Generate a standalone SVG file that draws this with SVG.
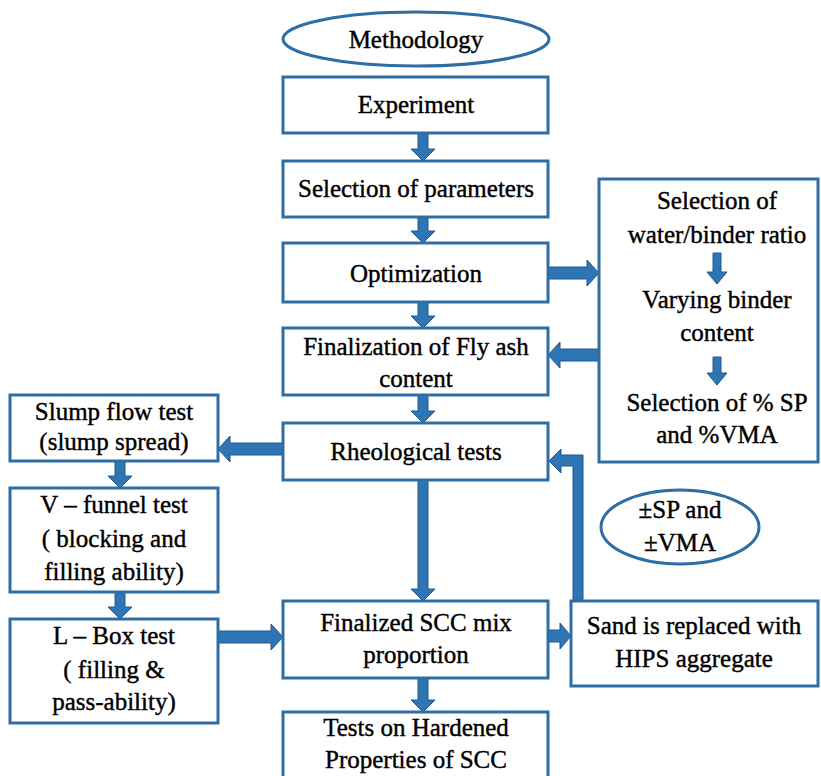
<svg xmlns="http://www.w3.org/2000/svg" width="821" height="776" viewBox="0 0 821 776">
<style>
.box{fill:#fff;stroke:#2f6ea5;stroke-width:3}
.arr{fill:#2e75b6;stroke:#23598a;stroke-width:1}
</style>
<rect width="821" height="776" fill="#fff"/>
<g id="connectors">
<polygon class="arr" points="418,133 428,133 428,149 435,149 423,161 411,149 418,149"/>
<polygon class="arr" points="418,217 428,217 428,231 435,231 423,243 411,231 418,231"/>
<polygon class="arr" points="418,302 428,302 428,316 435,316 423,328 411,316 418,316"/>
<polygon class="arr" points="418,395 428,395 428,411 435,411 423,423 411,411 418,411"/>
<polygon class="arr" points="418,480 428,480 428,589 435,589 423,601 411,589 418,589"/>
<polygon class="arr" points="418,678 428,678 428,700 435,700 423,712 411,700 418,700"/>
<polygon class="arr" points="115,461 125,461 125,476 132,476 120,488 108,476 115,476"/>
<polygon class="arr" points="115,592 125,592 125,607 132,607 120,619 108,607 115,607"/>
<polygon class="arr" points="548,267 587,267 587,260 599,273 587,286 587,279 548,279"/>
<polygon class="arr" points="599,349 560,349 560,342 548,355 560,368 560,361 599,361"/>
<polygon class="arr" points="283,443 230,443 230,436 218,449 230,462 230,455 283,455"/>
<polygon class="arr" points="218,631 271,631 271,624 283,637 271,650 271,643 218,643"/>
<polygon class="arr" points="548,630 560,630 560,623 571,636 560,649 560,642 548,642"/>
<polygon class="arr" points="573,601 573,466 561,466 561,473 549,461 561,449 561,455 583,455 583,601"/>
</g>
<g font-family="Liberation Serif" font-size="25" fill="#000" text-anchor="middle">
<g id="methodology">
<ellipse class="box" cx="416" cy="39" rx="133" ry="27" stroke-width="2.5"/>
<text x="416" y="48" stroke="#000" stroke-width="0.4">Methodology</text>
</g>
<g id="experiment">
<rect class="box" x="283" y="77" width="265" height="56"/>
<text x="416" y="113" stroke="#000" stroke-width="0.4">Experiment</text>
</g>
<g id="selection">
<rect class="box" x="283" y="161" width="265" height="56"/>
<text x="416" y="197" stroke="#000" stroke-width="0.4">Selection of parameters</text>
</g>
<g id="optimization">
<rect class="box" x="283" y="243" width="265" height="59"/>
<text x="416" y="282" stroke="#000" stroke-width="0.4">Optimization</text>
</g>
<g id="finalization">
<rect class="box" x="283" y="328" width="265" height="67"/>
<text x="416" y="355" stroke="#000" stroke-width="0.4">Finalization of Fly ash</text>
<text x="416" y="387" stroke="#000" stroke-width="0.4">content</text>
</g>
<g id="rheological">
<rect class="box" x="283" y="423" width="265" height="57"/>
<text x="416" y="460" stroke="#000" stroke-width="0.4">Rheological tests</text>
</g>
<g id="optbox">
<rect class="box" x="599" y="179" width="219" height="283"/>
<text x="717" y="209" stroke="#000" stroke-width="0.4">Selection of</text>
<text x="717" y="243" stroke="#000" stroke-width="0.4">water/binder ratio</text>
<polygon class="arr" points="713,253 721,253 721,272 727,272 717,284 707,272 713,272"/>
<text x="717" y="308" stroke="#000" stroke-width="0.4">Varying binder</text>
<text x="717" y="341" stroke="#000" stroke-width="0.4">content</text>
<polygon class="arr" points="713,357 721,357 721,373 727,373 717,385 707,373 713,373"/>
<text x="717" y="411" stroke="#000" stroke-width="0.4">Selection of % SP</text>
<text x="717" y="443" stroke="#000" stroke-width="0.4">and %VMA</text>
</g>
<g id="slump">
<rect class="box" x="10" y="395" width="208" height="66"/>
<text x="114" y="420" stroke="#000" stroke-width="0.4">Slump flow test</text>
<text x="114" y="450" stroke="#000" stroke-width="0.4">(slump spread)</text>
</g>
<g id="vfunnel">
<rect class="box" x="10" y="488" width="208" height="104"/>
<text x="114" y="513" stroke="#000" stroke-width="0.4">V – funnel test</text>
<text x="114" y="547" stroke="#000" stroke-width="0.4">( blocking and</text>
<text x="114" y="580" stroke="#000" stroke-width="0.4">filling ability)</text>
</g>
<g id="lbox">
<rect class="box" x="10" y="619" width="208" height="104"/>
<text x="114" y="644" stroke="#000" stroke-width="0.4">L – Box test</text>
<text x="114" y="678" stroke="#000" stroke-width="0.4">( filling &amp;</text>
<text x="114" y="710" stroke="#000" stroke-width="0.4">pass-ability)</text>
</g>
<g id="spvma">
<ellipse class="box" cx="680" cy="527" rx="79" ry="37" stroke-width="2.5"/>
<text x="680" y="518" stroke="#000" stroke-width="0.4">±SP and</text>
<text x="680" y="551" stroke="#000" stroke-width="0.4">±VMA</text>
</g>
<g id="finalized">
<rect class="box" x="283" y="601" width="265" height="77"/>
<text x="416" y="631" stroke="#000" stroke-width="0.4">Finalized SCC mix</text>
<text x="416" y="663" stroke="#000" stroke-width="0.4">proportion</text>
</g>
<g id="sand">
<rect class="box" x="571" y="601" width="247" height="85"/>
<text x="694" y="634" stroke="#000" stroke-width="0.4">Sand is replaced with</text>
<text x="694" y="667" stroke="#000" stroke-width="0.4">HIPS aggregate</text>
</g>
<g id="hardened">
<rect class="box" x="283" y="712" width="265" height="70"/>
<text x="416" y="736" stroke="#000" stroke-width="0.4">Tests on Hardened</text>
<text x="416" y="768" stroke="#000" stroke-width="0.4">Properties of SCC</text>
</g>
</g>
</svg>
